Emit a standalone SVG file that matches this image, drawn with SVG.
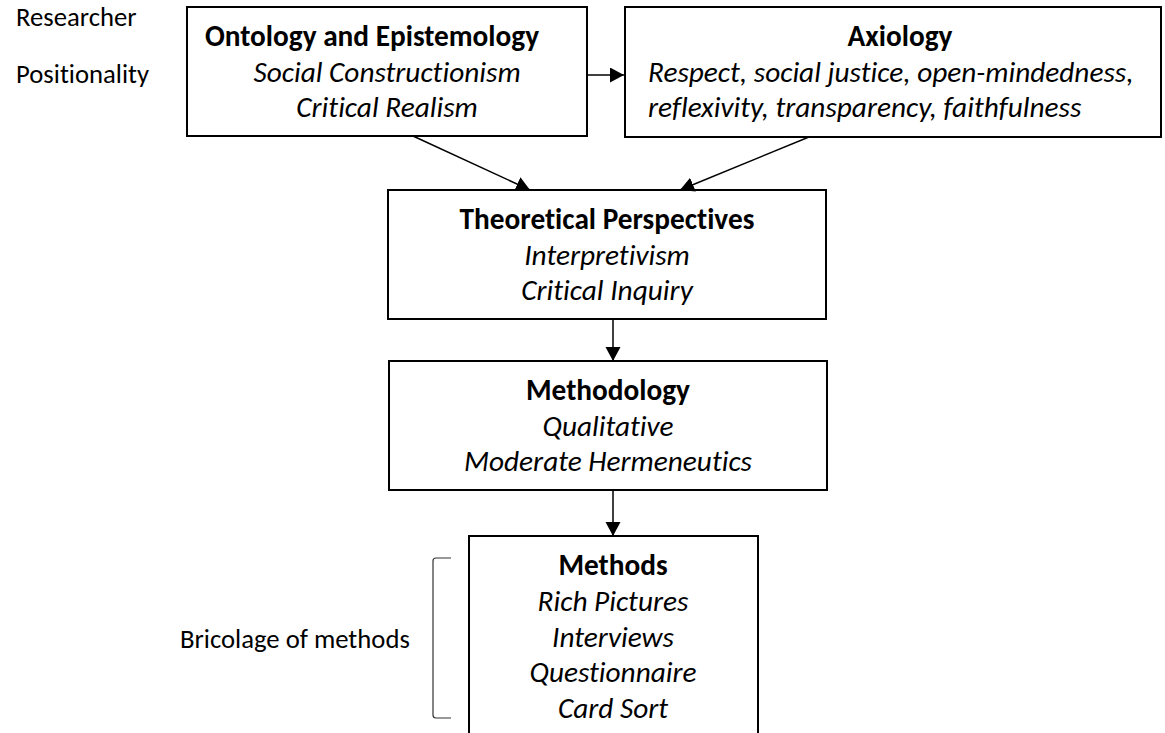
<svg xmlns="http://www.w3.org/2000/svg" width="1165" height="733" viewBox="0 0 1165 733">
  <defs>
    <marker id="arrow" markerUnits="userSpaceOnUse" markerWidth="16" markerHeight="16" refX="14" refY="7.5" orient="auto">
      <path d="M0,0 L14,7.5 L0,15 Z" fill="#000"/>
    </marker>
    <style>
      text { font-family: Calibri, Carlito, Lato, "Liberation Sans", sans-serif; font-variant-ligatures: none; font-feature-settings: "liga" 0, "clig" 0; fill: #000; }
      .box { fill: #fff; stroke: #000; stroke-width: 2; }
      .title { font-size: 29.3px; font-weight: bold; }
      .item { font-size: 29.3px; font-style: italic; }
      .label { font-size: 26.7px; }
      .mid { text-anchor: middle; }
      .edge { stroke: #000; stroke-width: 1.5; fill: none; marker-end: url(#arrow); }
      .brace { stroke: #333; stroke-width: 1.2; fill: none; }
    </style>
  </defs>
  <rect width="1165" height="733" fill="#fff"/>

  <!-- side labels -->
  <g id="positionality">
    <text class="label" x="16" y="26">Researcher</text>
    <text class="label" x="16" y="83">Positionality</text>
  </g>

  <g id="ontology">
    <rect class="box" x="187" y="7" width="400" height="129"/>
    <text class="title mid" x="372" y="46">Ontology and Epistemology</text>
    <text class="item mid" x="387" y="82">Social Constructionism</text>
    <text class="item mid" x="387" y="117">Critical Realism</text>
  </g>

  <g id="axiology">
    <rect class="box" x="625" y="7" width="536" height="130"/>
    <text class="title mid" x="900" y="46">Axiology</text>
    <text class="item" x="648" y="82">Respect, social justice, open-mindedness,</text>
    <text class="item" x="648" y="117">reflexivity, transparency, faithfulness</text>
  </g>

  <g id="theoretical">
    <rect class="box" x="388" y="190" width="438" height="129"/>
    <text class="title mid" x="607" y="229">Theoretical Perspectives</text>
    <text class="item mid" x="607" y="265">Interpretivism</text>
    <text class="item mid" x="607" y="300">Critical Inquiry</text>
  </g>

  <g id="methodology">
    <rect class="box" x="389" y="361" width="438" height="129"/>
    <text class="title mid" x="608" y="400">Methodology</text>
    <text class="item mid" x="608" y="436">Qualitative</text>
    <text class="item mid" x="608" y="471">Moderate Hermeneutics</text>
  </g>

  <g id="methods">
    <rect class="box" x="469" y="536" width="289" height="210"/>
    <text class="title mid" x="613" y="575">Methods</text>
    <text class="item mid" x="613" y="611">Rich Pictures</text>
    <text class="item mid" x="613" y="647">Interviews</text>
    <text class="item mid" x="613" y="682">Questionnaire</text>
    <text class="item mid" x="613" y="718">Card Sort</text>
  </g>

  <g id="bricolage">
    <path class="brace" d="M451,558 L436,558 Q433,558 433,561 L433,715 Q433,718 436,718 L451,718"/>
    <text class="label" x="180" y="648">Bricolage of methods</text>
  </g>

  <g id="connectors">
    <line class="edge" x1="587" y1="75" x2="624" y2="75"/>
    <line class="edge" x1="413" y1="136" x2="530" y2="190"/>
    <line class="edge" x1="809" y1="137" x2="680" y2="190"/>
    <line class="edge" x1="613" y1="319" x2="613" y2="361"/>
    <line class="edge" x1="613" y1="490" x2="613" y2="536"/>
  </g>
</svg>
